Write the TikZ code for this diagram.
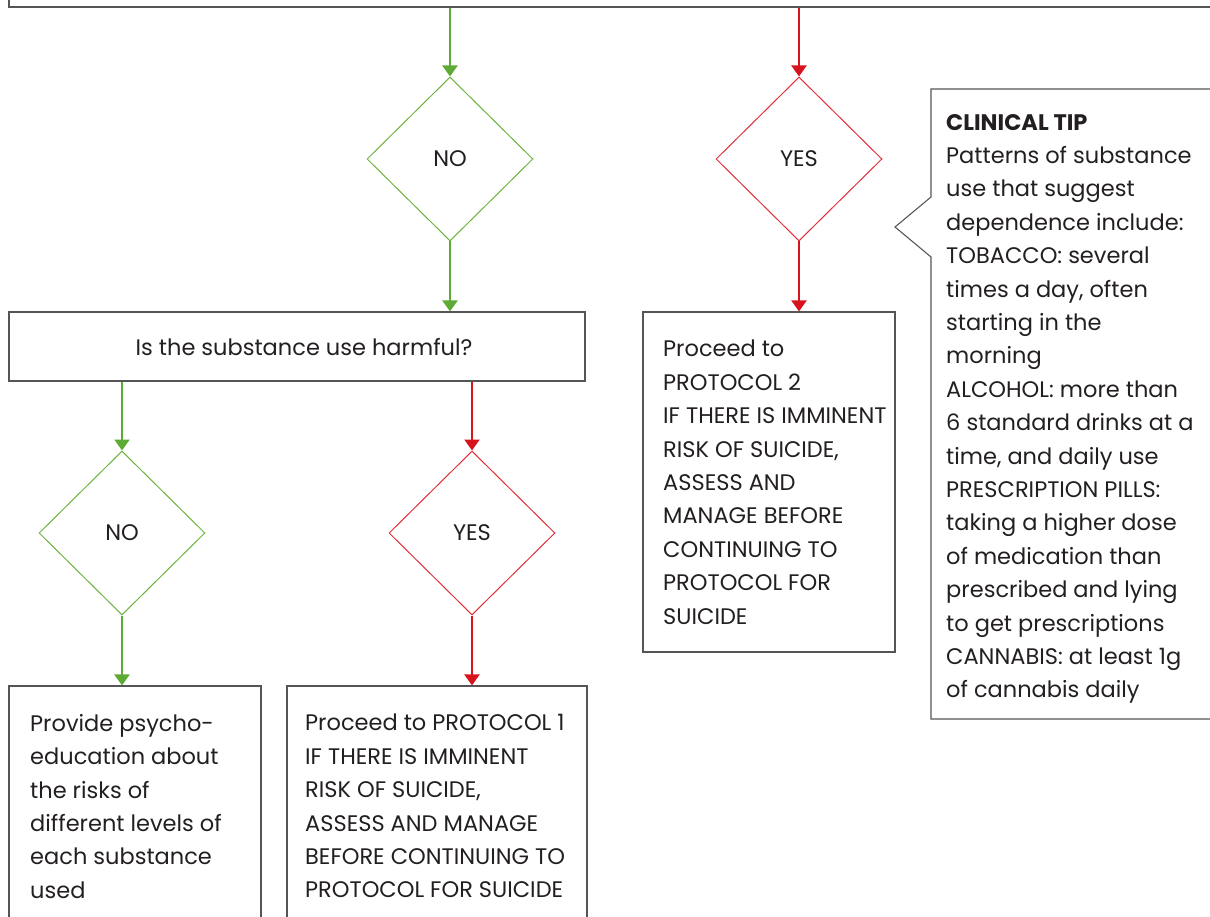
\documentclass[tikz,border=0pt]{standalone}
\usepackage{fontspec}
\setmainfont{Poppins}
\usetikzlibrary{shapes.geometric,arrows.meta}
\definecolor{gline}{HTML}{5DAA35}
\definecolor{gdia}{HTML}{6DB33F}
\definecolor{rline}{HTML}{D7141E}
\definecolor{rdia}{HTML}{E0303A}
\definecolor{txt}{HTML}{231F20}
\definecolor{bord}{HTML}{555555}
\tikzset{
  box/.style={draw=bord, line width=1.1pt, rectangle, inner sep=0pt},
  dia/.style={diamond, aspect=1, inner sep=0pt, minimum width=166pt, minimum height=164pt, line width=1pt, font=\fontsize{22.5}{26}\selectfont, text=txt},
  gdiabox/.style={dia, draw=gdia},
  rdiabox/.style={dia, draw=rdia},
  garrow/.style={draw=gline, line width=2.2pt, -{Triangle[width=15pt,length=11pt]}},
  rarrow/.style={draw=rline, line width=2.2pt, -{Triangle[width=15pt,length=11pt]}},
  body/.style={anchor=north west, inner sep=0pt, align=left, text=txt, font=\fontsize{22.5}{33.4}\selectfont},
}
\begin{document}
\begin{tikzpicture}[x=1pt,y=-1pt]
\useasboundingbox (0,0) rectangle (1210,917);
\clip (0,0) rectangle (1210,917);
% top box
\node[box, minimum width=1400pt, minimum height=107pt] (top) at (709,-46.5) {};
% first row diamonds
\node[gdiabox] (dno1) at (450,159) {NO};
\node[rdiabox] (dyes1) at (799,159) {YES};
\draw[garrow] (top.south -| dno1.north) -- (dno1.north);
\draw[rarrow] (top.south -| dyes1.north) -- (dyes1.north);
% harmful box
\node[box, minimum width=576pt, minimum height=69pt] (harm) at (297,346.5) {};
\node[inner sep=0pt, font=\fontsize{22.5}{26}\selectfont, text=txt] (harmt) at (304,347) {Is the substance use harmful?};
\draw[garrow] (dno1.south) -- (dno1.south |- harm.north);
% protocol 2 box
\node[box, minimum width=252pt, minimum height=340pt] (p2) at (769,482) {};
\draw[rarrow] (dyes1.south) -- (dyes1.south |- p2.north);
\node[body] (p2t) at (663,340) {Proceed to\\PROTOCOL 2\\IF THERE IS IMMINENT\\RISK OF SUICIDE,\\ASSESS AND\\MANAGE BEFORE\\CONTINUING TO\\PROTOCOL FOR\\SUICIDE};
% callout
\coordinate (c1) at (1220,89);
\coordinate (c2) at (931,89);
\coordinate (c3) at (931,197);
\coordinate (ctip) at (895,227);
\coordinate (c4) at (931,257);
\coordinate (c5) at (931,719);
\coordinate (c6) at (1220,719);
\draw[draw=bord, line width=1.1pt] (c1) -- (c2) -- (c3) -- (ctip) -- (c4) -- (c5) -- (c6);
\node[body] (tip) at (946,114) {{\bfseries CLINICAL TIP}\\Patterns of substance\\use that suggest\\dependence include:\\TOBACCO: several\\times a day, often\\starting in the\\morning\\ALCOHOL: more than\\6 standard drinks at a\\time, and daily use\\PRESCRIPTION PILLS:\\taking a higher dose\\of medication than\\prescribed and lying\\to get prescriptions\\CANNABIS: at least 1g\\of cannabis daily};
% second row diamonds
\node[gdiabox] (dno2) at (122,533) {NO};
\node[rdiabox] (dyes2) at (472,533) {YES};
\draw[garrow] (harm.south -| dno2.north) -- (dno2.north);
\draw[rarrow] (harm.south -| dyes2.north) -- (dyes2.north);
% bottom boxes
\node[box, minimum width=252pt, minimum height=274pt] (b1) at (135,823) {};
\node[box, minimum width=300pt, minimum height=274pt] (b2) at (437,823) {};
\draw[garrow] (dno2.south) -- (dno2.south |- b1.north);
\draw[rarrow] (dyes2.south) -- (dyes2.south |- b2.north);
\node[body] (b1t) at (30,714) {Provide psycho-\\education about\\the risks of\\different levels of\\each substance\\used};
\node[body] (b2t) at (305,714) {Proceed to PROTOCOL 1\\IF THERE IS IMMINENT\\RISK OF SUICIDE,\\ASSESS AND MANAGE\\BEFORE CONTINUING TO\\PROTOCOL FOR SUICIDE};
\end{tikzpicture}
\end{document}
